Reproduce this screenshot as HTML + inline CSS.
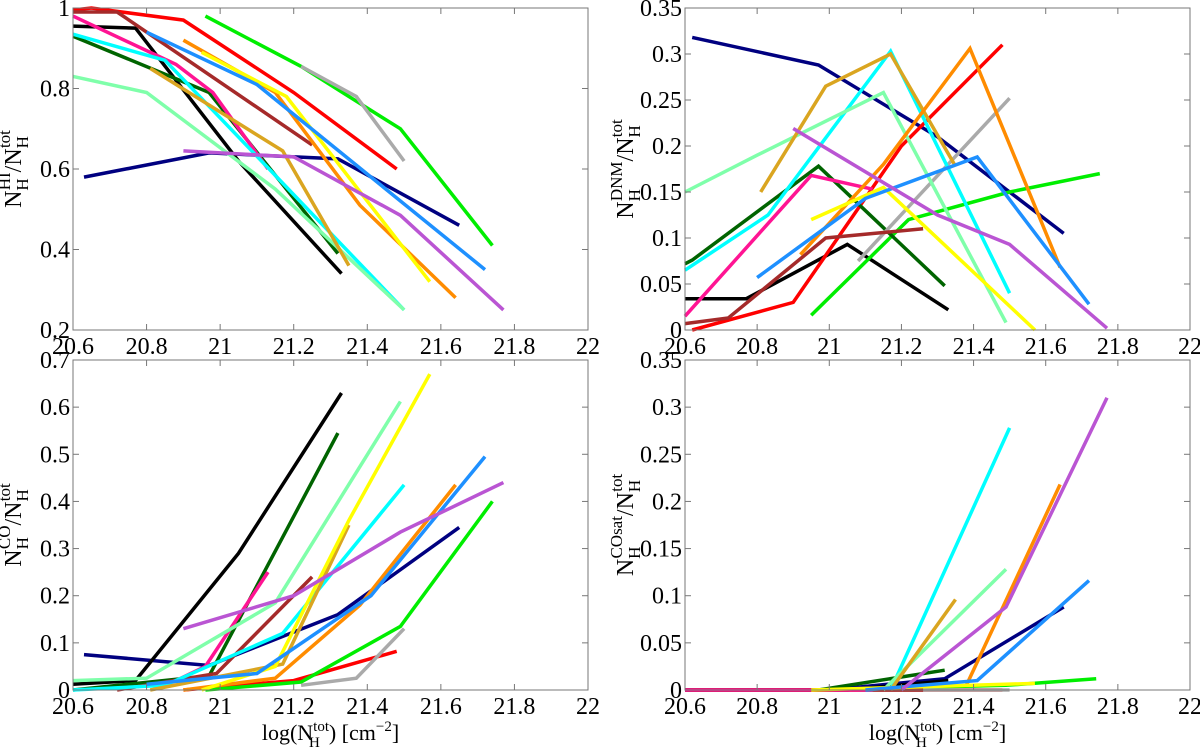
<!DOCTYPE html>
<html><head><meta charset="utf-8"><style>
body{margin:0;background:#fff}
svg, svg text{font-family:"Liberation Serif","DejaVu Serif","Times New Roman",serif}
</style></head><body>
<svg id="c" width="1200" height="751"></svg>
<script>
const seriesNames=["navy","black","red","lime","darkgreen","gray","brown","pink","cyan","aquamarine","goldenrod","orange","yellow","dodgerblue","purple"];
const seriesColors=["#000080","#000000","#ff0000","#00ee00","#006400","#aaaaaa","#a52a2a","#ff1493","#00ffff","#7fffaa","#daa520","#ff8c00","#ffff00","#1e90ff","#ba55d3"];
const xTicks=[20.6,20.8,21,21.2,21.4,21.6,21.8,22];
const xTickLabels=["20.6","20.8","21","21.2","21.4","21.6","21.8","22"];
const hiYTicks=[0.2,0.4,0.6,0.8,1];
const hiYTickLabels=["0.2","0.4","0.6","0.8","1"];
const dnmYTicks=[0,0.05,0.1,0.15,0.2,0.25,0.3,0.35];
const dnmYTickLabels=["0","0.05","0.1","0.15","0.2","0.25","0.3","0.35"];
const coYTicks=[0,0.1,0.2,0.3,0.4,0.5,0.6,0.7];
const coYTickLabels=["0","0.1","0.2","0.3","0.4","0.5","0.6","0.7"];
const hiX=[[20.63,20.97,21.32,21.65],[20.6,20.77,21.05,21.33],[20.6,20.65,20.9,21.2,21.48],[20.96,21.22,21.35,21.49,21.74],[20.6,20.97,21.32],[21.22,21.37,21.5],[20.6,20.72,21.25],[20.6,20.88,20.98,21.13],[20.6,20.85,21.5],[20.6,20.8,21.15,21.5],[20.81,21.17,21.35],[20.9,21.15,21.38,21.64],[20.95,21.18,21.4,21.57],[20.8,21.1,21.72],[20.9,21.2,21.49,21.77]];
const hiY=[[0.58,0.64,0.625,0.46],[0.955,0.95,0.62,0.34],[0.995,1.0,0.97,0.79,0.6],[0.98,0.855,0.78,0.70,0.41],[0.93,0.79,0.39],[0.855,0.78,0.62],[0.99,0.99,0.66],[0.98,0.86,0.79,0.6],[0.935,0.87,0.25],[0.83,0.79,0.55,0.25],[0.85,0.645,0.36],[0.92,0.79,0.51,0.28],[0.89,0.78,0.52,0.32],[0.94,0.81,0.35],[0.645,0.63,0.485,0.25]];
const dnmX=[[20.62,20.97,21.3,21.65],[20.6,20.77,21.05,21.33],[20.62,20.9,21.2,21.48],[20.95,21.22,21.5,21.75],[20.6,20.62,20.97,21.32],[21.08,21.5],[20.6,20.72,20.99,21.26],[20.6,20.95,21.12],[20.6,20.83,21.17,21.5],[20.6,20.8,21.15,21.49],[20.81,20.99,21.17,21.35],[20.92,21.15,21.39,21.64],[20.95,21.15,21.57],[20.8,21.1,21.41,21.72],[20.9,21.3,21.5,21.77]];
const dnmY=[[0.318,0.288,0.21,0.105],[0.034,0.034,0.093,0.022],[0,0.03,0.2,0.31],[0.016,0.12,0.15,0.17],[0.072,0.076,0.178,0.048],[0.075,0.252],[0.007,0.013,0.1,0.11],[0.015,0.168,0.153],[0.065,0.125,0.303,0.04],[0.15,0.19,0.258,0.008],[0.15,0.265,0.3,0.178],[0.082,0.18,0.306,0.068],[0.12,0.155,0],[0.057,0.143,0.188,0.028],[0.219,0.125,0.093,0.002]];
const coX=[[20.63,20.97,21.32,21.65],[20.6,20.77,21.05,21.33],[20.9,21.2,21.48],[20.96,21.22,21.49,21.74],[20.6,20.97,21.32],[21.22,21.37,21.5],[20.72,20.99,21.25],[20.88,20.96,21.13],[20.6,20.85,21.17,21.5],[20.6,20.8,21.15,21.49],[20.81,21.17,21.35],[20.9,21.15,21.38,21.64],[20.95,21.15,21.35,21.57],[20.8,21.1,21.41,21.72],[20.9,21.2,21.49,21.77]];
const coY=[[0.075,0.052,0.16,0.345],[0.012,0.02,0.29,0.63],[0,0.02,0.082],[0,0.017,0.135,0.4],[0,0.03,0.545],[0.01,0.025,0.13],[0,0.035,0.24],[0.02,0.05,0.25],[0,0.01,0.12,0.435],[0.02,0.025,0.185,0.612],[0,0.055,0.35],[0,0.025,0.18,0.435],[0,0.05,0.36,0.67],[0.012,0.035,0.2,0.495],[0.13,0.2,0.335,0.44]];
const satX=[[20.6,21.0,21.32,21.65],[20.6,21.05,21.33],[20.62,21.48],[20.96,21.49,21.74],[20.6,20.97,21.32],[21.08,21.5],[20.6,21.26],[20.6,21.12],[21.17,21.5],[21.15,21.49],[21.17,21.35],[21.38,21.64],[20.95,21.57],[21.1,21.41,21.72],[21.2,21.49,21.77]];
const satY=[[0,0,0.012,0.088],[0,0,0.01],[0,0],[0,0.005,0.012],[0,0,0.021],[0,0],[0,0],[0,0],[0,0.278],[0,0.128],[0,0.096],[0.005,0.218],[0,0.007],[0,0.01,0.116],[0,0.088,0.31]];

const NS="http://www.w3.org/2000/svg";
const FF="'Liberation Serif', 'DejaVu Serif', 'Times New Roman', serif";
const svg=document.getElementById('c');
function mk(t,a,p){const e=document.createElementNS(NS,t);for(const k in a)e.setAttribute(k,a[k]);(p||svg).appendChild(e);return e;}
function panel(name,box,ymin,ymax,yt,ytl,xs,ys,showXTitle,ylabSup){
  const g=mk('g',{'font-family':FF});
  
  
  const [L,T,R,B]=box;
  const sx=v=>L+(v-20.6)/(22-20.6)*(R-L);
  const sy=v=>B-(v-ymin)/(ymax-ymin)*(B-T);
  const lines=mk('g',{},g);
  xs.forEach((xa,i)=>{
    const pts=xa.map((x,j)=>sx(x).toFixed(1)+','+sy(ys[i][j]).toFixed(1)).join(' ');
    const pl=mk('polyline',{points:pts,fill:'none',stroke:seriesColors[i],'stroke-width':3.5,'stroke-linejoin':'miter'},lines);
    
    
  });
  const fr=mk('rect',{x:L,y:T,width:R-L,height:B-T,fill:'none',stroke:'#777','stroke-width':1},g);
  
  
  xTicks.forEach((v,i)=>{
    const x=sx(v);
    mk('line',{x1:x,x2:x,y1:B,y2:B-6,stroke:'#777'},g);
    mk('line',{x1:x,x2:x,y1:T,y2:T+6,stroke:'#777'},g);
    const t=mk('text',{x:x,y:B+24,'text-anchor':'middle','font-size':24,'font-family':FF},g);
    t.textContent=xTickLabels[i];
    
    
  });
  yt.forEach((v,i)=>{
    const y=sy(v);
    mk('line',{x1:L,x2:L+6,y1:y,y2:y,stroke:'#777'},g);
    mk('line',{x1:R,x2:R-6,y1:y,y2:y,stroke:'#777'},g);
    const t=mk('text',{x:L-3,y:y+8,'text-anchor':'end','font-size':24,'font-family':FF},g);
    t.textContent=ytl[i];
    
    
  });
  const cy=(T+B)/2;
  const yl=mk('text',{transform:`translate(${L-52},${cy}) rotate(-90)`,'text-anchor':'middle','font-size':24,'font-family':FF},g);
  
  
  yl.innerHTML=`N<tspan font-size="17" dy="7">H</tspan><tspan font-size="17" dx="-12" dy="-18">${ylabSup}</tspan><tspan dy="11">/N</tspan><tspan font-size="17" dy="7">H</tspan><tspan font-size="17" dx="-12" dy="-18">tot</tspan>`;
  if(showXTitle){
    const xl=mk('text',{x:(L+R)/2,y:B+50,'text-anchor':'middle','font-size':22,'font-family':FF},g);
    
    
    xl.innerHTML=`log(N<tspan font-size="15" dy="-9">tot</tspan><tspan font-size="15" dx="-20" dy="16">H</tspan><tspan dy="-7" dx="9">) [cm</tspan><tspan font-size="15" dy="-9">−2</tspan><tspan dy="9">]</tspan>`;
  }
}
panel('panel-hi',[73,8,588,330],0.2,1,hiYTicks,hiYTickLabels,hiX,hiY,false,'HI');
panel('panel-dnm',[685,8,1190,330],0,0.35,dnmYTicks,dnmYTickLabels,dnmX,dnmY,false,'DNM');
panel('panel-co',[73,360,588,690],0,0.7,coYTicks,coYTickLabels,coX,coY,true,'CO');
panel('panel-cosat',[685,360,1190,690],0,0.35,dnmYTicks,dnmYTickLabels,satX,satY,true,'COsat');
</script>
</body></html>
